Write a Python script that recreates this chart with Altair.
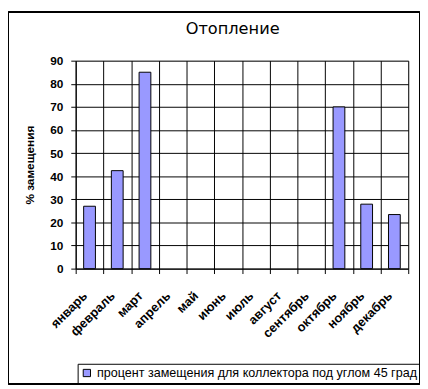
import altair as alt
import pandas as pd

months = ["январь", "февраль", "март", "апрель", "май", "июнь", "июль",
          "август", "сентябрь", "октябрь", "ноябрь", "декабрь"]
values = [27.0, 42.4, 85.0, 0, 0, 0, 0, 0, 0, 70.0, 27.9, 23.4]
series_name = "процент замещения для коллектора под углом 45 град"
chart_title = "Отопление"
y_ticks = [0, 10, 20, 30, 40, 50, 60, 70, 80, 90]

df = pd.DataFrame({"month": months, "value": values, "series": series_name})

FONT = "Liberation Sans"

base = alt.Chart(df)

bars = base.mark_bar(size=12, stroke="black", strokeWidth=1).encode(
    x=alt.X("month:N", sort=months, title=None,
            scale=alt.Scale(domain=months, paddingInner=0, paddingOuter=0),
            axis=alt.Axis(labelAngle=-45, labelFont=FONT, labelFontSize=13,
                          labelFontWeight="bold", labelColor="black",
                          grid=True, gridColor="black", gridOpacity=1,
                          tickBand="extent", tickColor="black", tickSize=5,
                          domainColor="black", labelPadding=16, labelOffset=-9)),
    y=alt.Y("value:Q", title="% замещения",
            scale=alt.Scale(domain=[0, 90], nice=False),
            axis=alt.Axis(values=y_ticks, labelFont=FONT, labelFontSize=12,
                          labelFontWeight="bold", labelColor="black",
                          titleFont=FONT, titleFontSize=12, titleFontWeight="bold",
                          titleColor="black", titlePadding=14,
                          grid=True, gridColor="black", gridOpacity=1,
                          tickColor="black", tickSize=5, domainColor="black",
                          labelPadding=8)),
    color=alt.Color("series:N", title=None,
                    scale=alt.Scale(range=["#9999FF"]),
                    legend=alt.Legend(orient="none", legendX=2, legendY=309,
                                      strokeColor="black", padding=3,
                                      symbolType="square", symbolSize=55,
                                      symbolStrokeColor="black", symbolStrokeWidth=1,
                                      labelFont=FONT, labelFontSize=12.8,
                                      labelColor="black", labelLimit=400)),
).transform_filter(alt.datum.value > 0)

title_df = pd.DataFrame({"t": [chart_title]})
title = alt.Chart(title_df).mark_text(
    font="DejaVu Sans", fontSize=16.5, color="black", align="center", baseline="alphabetic"
).encode(text="t:N", x=alt.value(160), y=alt.value(-27))

border = base.mark_rect(fill=None, stroke="black", strokeWidth=1).encode(
    x=alt.value(-68.5), x2=alt.value(350.5), y=alt.value(-49.5), y2=alt.value(329.5)
)

chart = alt.layer(bars, title, border).properties(
    width=339, height=212,
    padding={"left": 69, "top": 50, "right": 12, "bottom": 118},
    autosize=alt.AutoSizeParams(type="none"),
).configure_view(stroke="#808080", strokeWidth=1).configure(background="white")

chart.save("out.html", embed_options={"renderer": "svg", "actions": False})
